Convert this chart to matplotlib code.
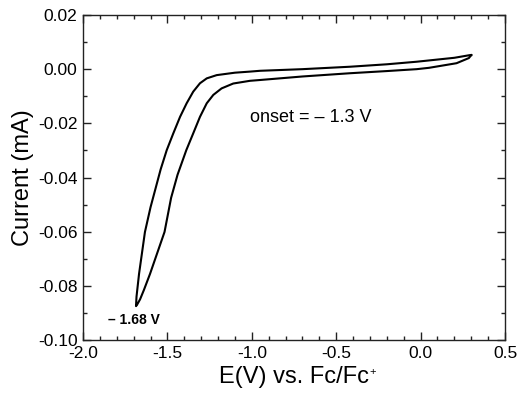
import matplotlib
matplotlib.use("Agg")
import matplotlib.pyplot as plt
from matplotlib.ticker import MultipleLocator

plt.rcParams['font.family'] = ['Liberation Sans', 'DejaVu Sans']

# Cathodic sweep (0.3 V -> -1.68 V), lower/right branch
fwd_E = [0.300, 0.286, 0.213, 0.05, -0.023, -0.20, -0.418, -0.70, -0.951, -1.011, -1.110,
         -1.179, -1.228, -1.267, -1.307, -1.347, -1.388, -1.440, -1.478, -1.517, -1.603,
         -1.639, -1.662, -1.680, -1.686]
fwd_I = [0.0052, 0.0041, 0.0022, 0.0005, 0.0000, -0.0007, -0.0015, -0.0027, -0.0040, -0.0043,
         -0.0053, -0.0071, -0.0095, -0.0126, -0.0176, -0.0237, -0.0299, -0.0390, -0.0475,
         -0.0601, -0.0756, -0.0815, -0.0850, -0.0870, -0.0875]
# Anodic return sweep (-1.68 V -> 0.3 V), left/upper branch
rev_E = [-1.686, -1.683, -1.668, -1.633, -1.600, -1.570, -1.540, -1.504, -1.465, -1.425,
         -1.386, -1.347, -1.307, -1.267, -1.208, -1.100, -1.011, -0.951, -0.700, -0.418,
         -0.200, -0.023, 0.200, 0.293, 0.300]
rev_I = [-0.0875, -0.0840, -0.0756, -0.0601, -0.0510, -0.0440, -0.0370, -0.0299, -0.0237,
         -0.0176, -0.0126, -0.0083, -0.0052, -0.0034, -0.0022, -0.0013, -0.0009, -0.0006,
         0.0000, 0.0009, 0.0018, 0.00275, 0.0042, 0.0052, 0.0052]

x_ticks = [-2.0, -1.5, -1.0, -0.5, 0.0, 0.5]
y_ticks = [0.02, 0.00, -0.02, -0.04, -0.06, -0.08, -0.10]

fig = plt.figure(figsize=(5.2, 4.01), dpi=100)
ax = fig.add_axes([83/520, 1 - 340/401, (505 - 83)/520, (340 - 15)/401])

ax.plot(fwd_E + rev_E, fwd_I + rev_I, color='black', lw=1.5, solid_joinstyle='round')

ax.set_xlim(-2.0, 0.5)
ax.set_ylim(-0.10, 0.02)
ax.set_xticks(x_ticks)
ax.set_xticklabels(['%.1f' % v for v in x_ticks])
ax.set_yticks(y_ticks)
ax.set_yticklabels(['%.2f' % v for v in y_ticks])
ax.xaxis.set_minor_locator(MultipleLocator(0.1))
ax.yaxis.set_minor_locator(MultipleLocator(0.01))
ax.tick_params(which='both', direction='in', top=True, right=True, labelsize=12.5,
               color='#222222', width=1)
ax.tick_params(which='major', length=6, pad=4)
ax.tick_params(which='minor', length=3)
for s in ax.spines.values():
    s.set_linewidth(1.0)
    s.set_color('#222222')

xl = ax.set_xlabel('E(V) vs. Fc/Fc', fontsize=17, labelpad=4)
ax.set_ylabel('Current (mA)', fontsize=17, labelpad=3)

ax.text(-1.01, -0.0177, 'onset = – 1.3 V', fontsize=13, va='center', ha='left')
ax.text(-1.85, -0.0925, '– 1.68 V', fontsize=10, fontweight='bold', va='center', ha='left')

fig.canvas.draw()
bb = xl.get_window_extent(renderer=fig.canvas.get_renderer())
fig.text((bb.x1 + 0.5) / fig.bbox.width, (bb.y1 - 1) / fig.bbox.height, '+',
         fontsize=8, ha='left', va='top')

fig.savefig('out.png', dpi=100)
